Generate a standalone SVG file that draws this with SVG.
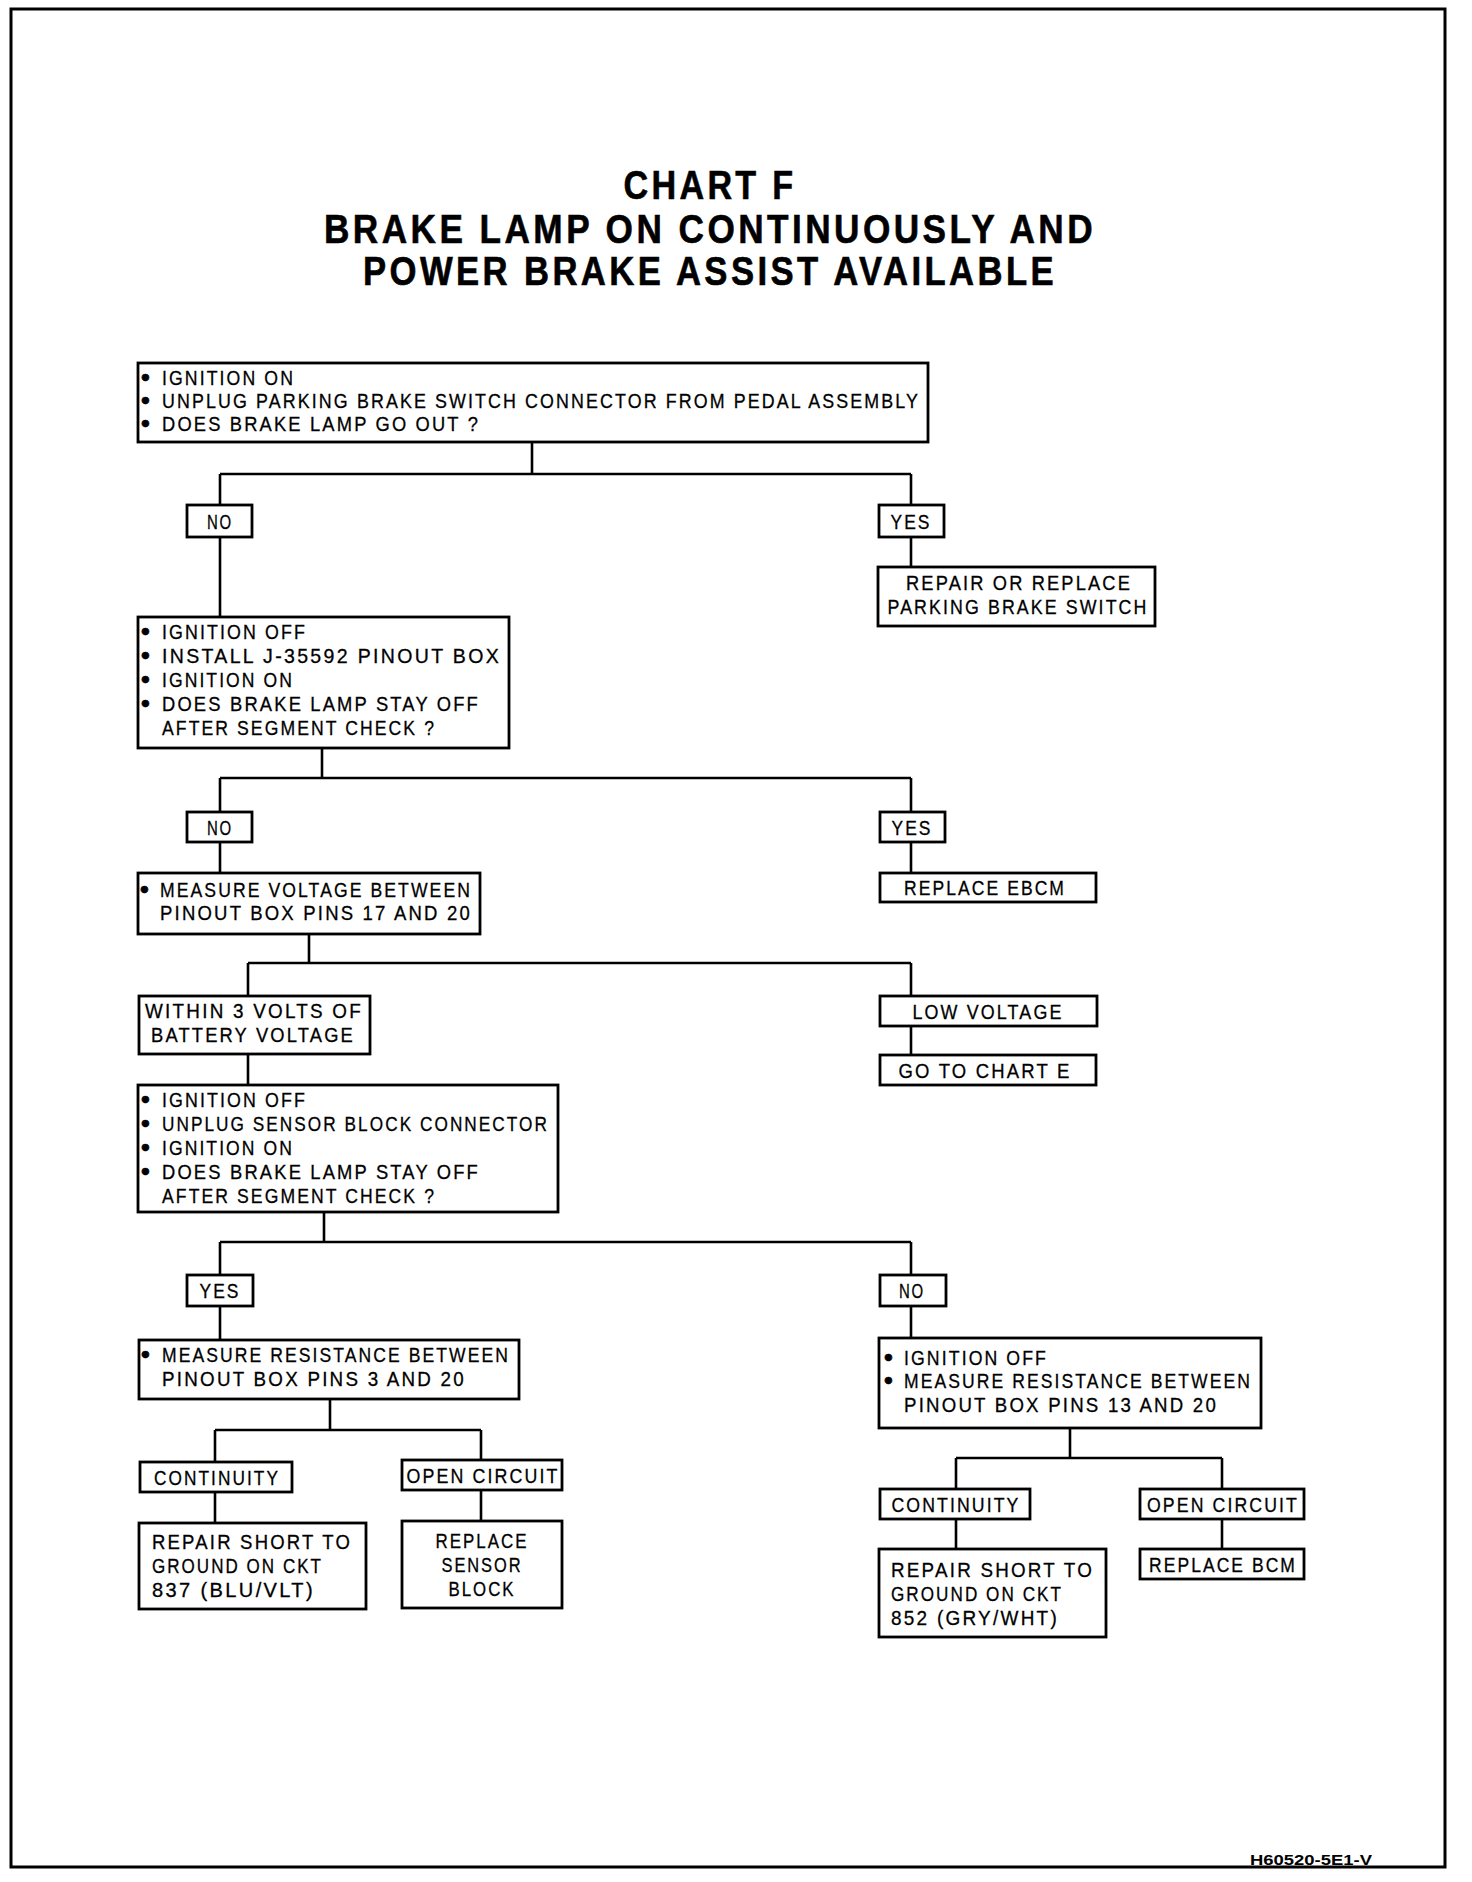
<svg xmlns="http://www.w3.org/2000/svg" width="1472" height="1882" viewBox="0 0 1472 1882">
<style>
.b{fill:#fff;stroke:#000;stroke-width:2.8}
.c{fill:none;stroke:#000;stroke-width:2.6}
text{font-family:"Liberation Sans Narrow","Liberation Sans",Arial,sans-serif;font-size:21px;fill:#000;stroke:#000;stroke-width:0.3;letter-spacing:2.5px}
.t{font-size:41px;font-weight:bold;text-anchor:middle;stroke-width:0.6;letter-spacing:4px}
.m{text-anchor:middle}
.d{font-family:"DejaVu Sans",sans-serif;font-weight:bold;font-size:20px;stroke-width:0.6;letter-spacing:0}
.f{font-size:15px;font-weight:bold;stroke:none;letter-spacing:0}
</style>
<rect x="0" y="0" width="1472" height="1882" fill="#fff"/>
<rect x="11" y="9" width="1434" height="1858" fill="none" stroke="#000" stroke-width="3"/>
<g id="title">
<text class="t" x="710" y="199" textLength="173" lengthAdjust="spacingAndGlyphs">CHART F</text>
<text class="t" x="710" y="243" textLength="772" lengthAdjust="spacingAndGlyphs">BRAKE LAMP ON CONTINUOUSLY AND</text>
<text class="t" x="710" y="285" textLength="694" lengthAdjust="spacingAndGlyphs">POWER BRAKE ASSIST AVAILABLE</text>
</g>
<g id="connectors" class="c">
<path d="M532 442V474M220 474H911M220 474V505M911 474V505M220 537V617M911 537V567"/>
<path d="M322 748V778M220 778H911M220 778V812M911 778V812M220 842V873M911 842V873"/>
<path d="M309 934V963M248 963H911M248 963V996M911 963V996M911 1026V1055M248 1054V1085"/>
<path d="M324 1212V1242M220 1242H911M220 1242V1275M911 1242V1275M220 1306V1340M911 1306V1338"/>
<path d="M330 1399V1430M215 1430H481M215 1430V1462M481 1430V1460M215 1492V1523M481 1490V1521"/>
<path d="M1070 1428V1458M956 1458H1222M956 1458V1489M1222 1458V1489M956 1519V1549M1222 1519V1549"/>
</g>
<g id="n1"><rect class="b" x="138" y="363" width="790" height="79"/>
<text x="139" y="385"><tspan class="d">•</tspan><tspan x="162" textLength="133" lengthAdjust="spacingAndGlyphs">IGNITION ON</tspan></text>
<text x="139" y="408"><tspan class="d">•</tspan><tspan x="162" textLength="758" lengthAdjust="spacingAndGlyphs">UNPLUG PARKING BRAKE SWITCH CONNECTOR FROM PEDAL ASSEMBLY</tspan></text>
<text x="139" y="431"><tspan class="d">•</tspan><tspan x="162" textLength="318" lengthAdjust="spacingAndGlyphs">DOES BRAKE LAMP GO OUT ?</tspan></text></g>
<g id="no1"><rect class="b" x="187" y="505" width="65" height="32"/><text class="m" x="220" y="529" textLength="26" lengthAdjust="spacingAndGlyphs">NO</text></g>
<g id="yes1"><rect class="b" x="879" y="505" width="65" height="32"/><text class="m" x="911" y="529" textLength="41" lengthAdjust="spacingAndGlyphs">YES</text></g>
<g id="r1"><rect class="b" x="878" y="567" width="277" height="59"/>
<text class="m" x="1019" y="590" textLength="226" lengthAdjust="spacingAndGlyphs">REPAIR OR REPLACE</text>
<text class="m" x="1018" y="614" textLength="261" lengthAdjust="spacingAndGlyphs">PARKING BRAKE SWITCH</text></g>
<g id="n2"><rect class="b" x="138" y="617" width="371" height="131"/>
<text x="139" y="639"><tspan class="d">•</tspan><tspan x="162" textLength="145" lengthAdjust="spacingAndGlyphs">IGNITION OFF</tspan></text>
<text x="139" y="663"><tspan class="d">•</tspan><tspan x="162" textLength="339" lengthAdjust="spacingAndGlyphs">INSTALL J-35592 PINOUT BOX</tspan></text>
<text x="139" y="687"><tspan class="d">•</tspan><tspan x="162" textLength="132" lengthAdjust="spacingAndGlyphs">IGNITION ON</tspan></text>
<text x="139" y="711"><tspan class="d">•</tspan><tspan x="162" textLength="318" lengthAdjust="spacingAndGlyphs">DOES BRAKE LAMP STAY OFF</tspan></text>
<text x="162" y="735" textLength="274" lengthAdjust="spacingAndGlyphs">AFTER SEGMENT CHECK ?</text></g>
<g id="no2"><rect class="b" x="187" y="812" width="65" height="30"/><text class="m" x="220" y="835" textLength="26" lengthAdjust="spacingAndGlyphs">NO</text></g>
<g id="yes2"><rect class="b" x="880" y="812" width="65" height="30"/><text class="m" x="912" y="835" textLength="41" lengthAdjust="spacingAndGlyphs">YES</text></g>
<g id="n3"><rect class="b" x="138" y="873" width="342" height="61"/>
<text x="138" y="897"><tspan class="d">•</tspan><tspan x="160" textLength="312" lengthAdjust="spacingAndGlyphs">MEASURE VOLTAGE BETWEEN</tspan></text>
<text x="160" y="920" textLength="312" lengthAdjust="spacingAndGlyphs">PINOUT BOX PINS 17 AND 20</text></g>
<g id="r2"><rect class="b" x="880" y="873" width="216" height="29"/><text class="m" x="985" y="895" textLength="162" lengthAdjust="spacingAndGlyphs">REPLACE EBCM</text></g>
<g id="within"><rect class="b" x="139" y="996" width="231" height="58"/>
<text class="m" x="254" y="1018" textLength="218" lengthAdjust="spacingAndGlyphs">WITHIN 3 VOLTS OF</text>
<text class="m" x="253" y="1042" textLength="204" lengthAdjust="spacingAndGlyphs">BATTERY VOLTAGE</text></g>
<g id="low"><rect class="b" x="880" y="996" width="217" height="30"/><text class="m" x="988" y="1019" textLength="151" lengthAdjust="spacingAndGlyphs">LOW VOLTAGE</text></g>
<g id="goto"><rect class="b" x="880" y="1055" width="216" height="30"/><text class="m" x="985" y="1078" textLength="173" lengthAdjust="spacingAndGlyphs">GO TO CHART E</text></g>
<g id="n4"><rect class="b" x="138" y="1085" width="420" height="127"/>
<text x="139" y="1107"><tspan class="d">•</tspan><tspan x="162" textLength="145" lengthAdjust="spacingAndGlyphs">IGNITION OFF</tspan></text>
<text x="139" y="1131"><tspan class="d">•</tspan><tspan x="162" textLength="387" lengthAdjust="spacingAndGlyphs">UNPLUG SENSOR BLOCK CONNECTOR</tspan></text>
<text x="139" y="1155"><tspan class="d">•</tspan><tspan x="162" textLength="132" lengthAdjust="spacingAndGlyphs">IGNITION ON</tspan></text>
<text x="139" y="1179"><tspan class="d">•</tspan><tspan x="162" textLength="318" lengthAdjust="spacingAndGlyphs">DOES BRAKE LAMP STAY OFF</tspan></text>
<text x="162" y="1203" textLength="274" lengthAdjust="spacingAndGlyphs">AFTER SEGMENT CHECK ?</text></g>
<g id="yes3"><rect class="b" x="187" y="1275" width="66" height="31"/><text class="m" x="220" y="1298" textLength="41" lengthAdjust="spacingAndGlyphs">YES</text></g>
<g id="no3"><rect class="b" x="880" y="1275" width="66" height="31"/><text class="m" x="912" y="1298" textLength="26" lengthAdjust="spacingAndGlyphs">NO</text></g>
<g id="n5"><rect class="b" x="139" y="1340" width="380" height="59"/>
<text x="139" y="1362"><tspan class="d">•</tspan><tspan x="162" textLength="348" lengthAdjust="spacingAndGlyphs">MEASURE RESISTANCE BETWEEN</tspan></text>
<text x="162" y="1386" textLength="304" lengthAdjust="spacingAndGlyphs">PINOUT BOX PINS 3 AND 20</text></g>
<g id="n6"><rect class="b" x="879" y="1338" width="382" height="90"/>
<text x="882" y="1365"><tspan class="d">•</tspan><tspan x="904" textLength="144" lengthAdjust="spacingAndGlyphs">IGNITION OFF</tspan></text>
<text x="882" y="1388"><tspan class="d">•</tspan><tspan x="904" textLength="348" lengthAdjust="spacingAndGlyphs">MEASURE RESISTANCE BETWEEN</tspan></text>
<text x="904" y="1412" textLength="314" lengthAdjust="spacingAndGlyphs">PINOUT BOX PINS 13 AND 20</text></g>
<g id="cont1"><rect class="b" x="140" y="1462" width="152" height="30"/><text class="m" x="217" y="1485" textLength="126" lengthAdjust="spacingAndGlyphs">CONTINUITY</text></g>
<g id="open1"><rect class="b" x="402" y="1460" width="160" height="30"/><text class="m" x="483" y="1483" textLength="153" lengthAdjust="spacingAndGlyphs">OPEN CIRCUIT</text></g>
<g id="rep1"><rect class="b" x="139" y="1523" width="227" height="86"/>
<text x="152" y="1549" textLength="200" lengthAdjust="spacingAndGlyphs">REPAIR SHORT TO</text>
<text x="152" y="1573" textLength="171" lengthAdjust="spacingAndGlyphs">GROUND ON CKT</text>
<text x="152" y="1597" textLength="163" lengthAdjust="spacingAndGlyphs">837 (BLU/VLT)</text></g>
<g id="rep2"><rect class="b" x="402" y="1521" width="160" height="87"/>
<text class="m" x="482" y="1548" textLength="93" lengthAdjust="spacingAndGlyphs">REPLACE</text>
<text class="m" x="482" y="1572" textLength="81" lengthAdjust="spacingAndGlyphs">SENSOR</text>
<text class="m" x="482" y="1596" textLength="67" lengthAdjust="spacingAndGlyphs">BLOCK</text></g>
<g id="cont2"><rect class="b" x="880" y="1489" width="150" height="30"/><text class="m" x="956" y="1512" textLength="129" lengthAdjust="spacingAndGlyphs">CONTINUITY</text></g>
<g id="open2"><rect class="b" x="1140" y="1489" width="164" height="30"/><text class="m" x="1223" y="1512" textLength="152" lengthAdjust="spacingAndGlyphs">OPEN CIRCUIT</text></g>
<g id="rep3"><rect class="b" x="879" y="1549" width="227" height="88"/>
<text x="891" y="1577" textLength="203" lengthAdjust="spacingAndGlyphs">REPAIR SHORT TO</text>
<text x="891" y="1601" textLength="172" lengthAdjust="spacingAndGlyphs">GROUND ON CKT</text>
<text x="891" y="1625" textLength="168" lengthAdjust="spacingAndGlyphs">852 (GRY/WHT)</text></g>
<g id="bcm"><rect class="b" x="1140" y="1549" width="164" height="30"/><text class="m" x="1223" y="1572" textLength="148" lengthAdjust="spacingAndGlyphs">REPLACE BCM</text></g>
<text class="f" x="1250" y="1865" textLength="122" lengthAdjust="spacingAndGlyphs">H60520-5E1-V</text>
</svg>
